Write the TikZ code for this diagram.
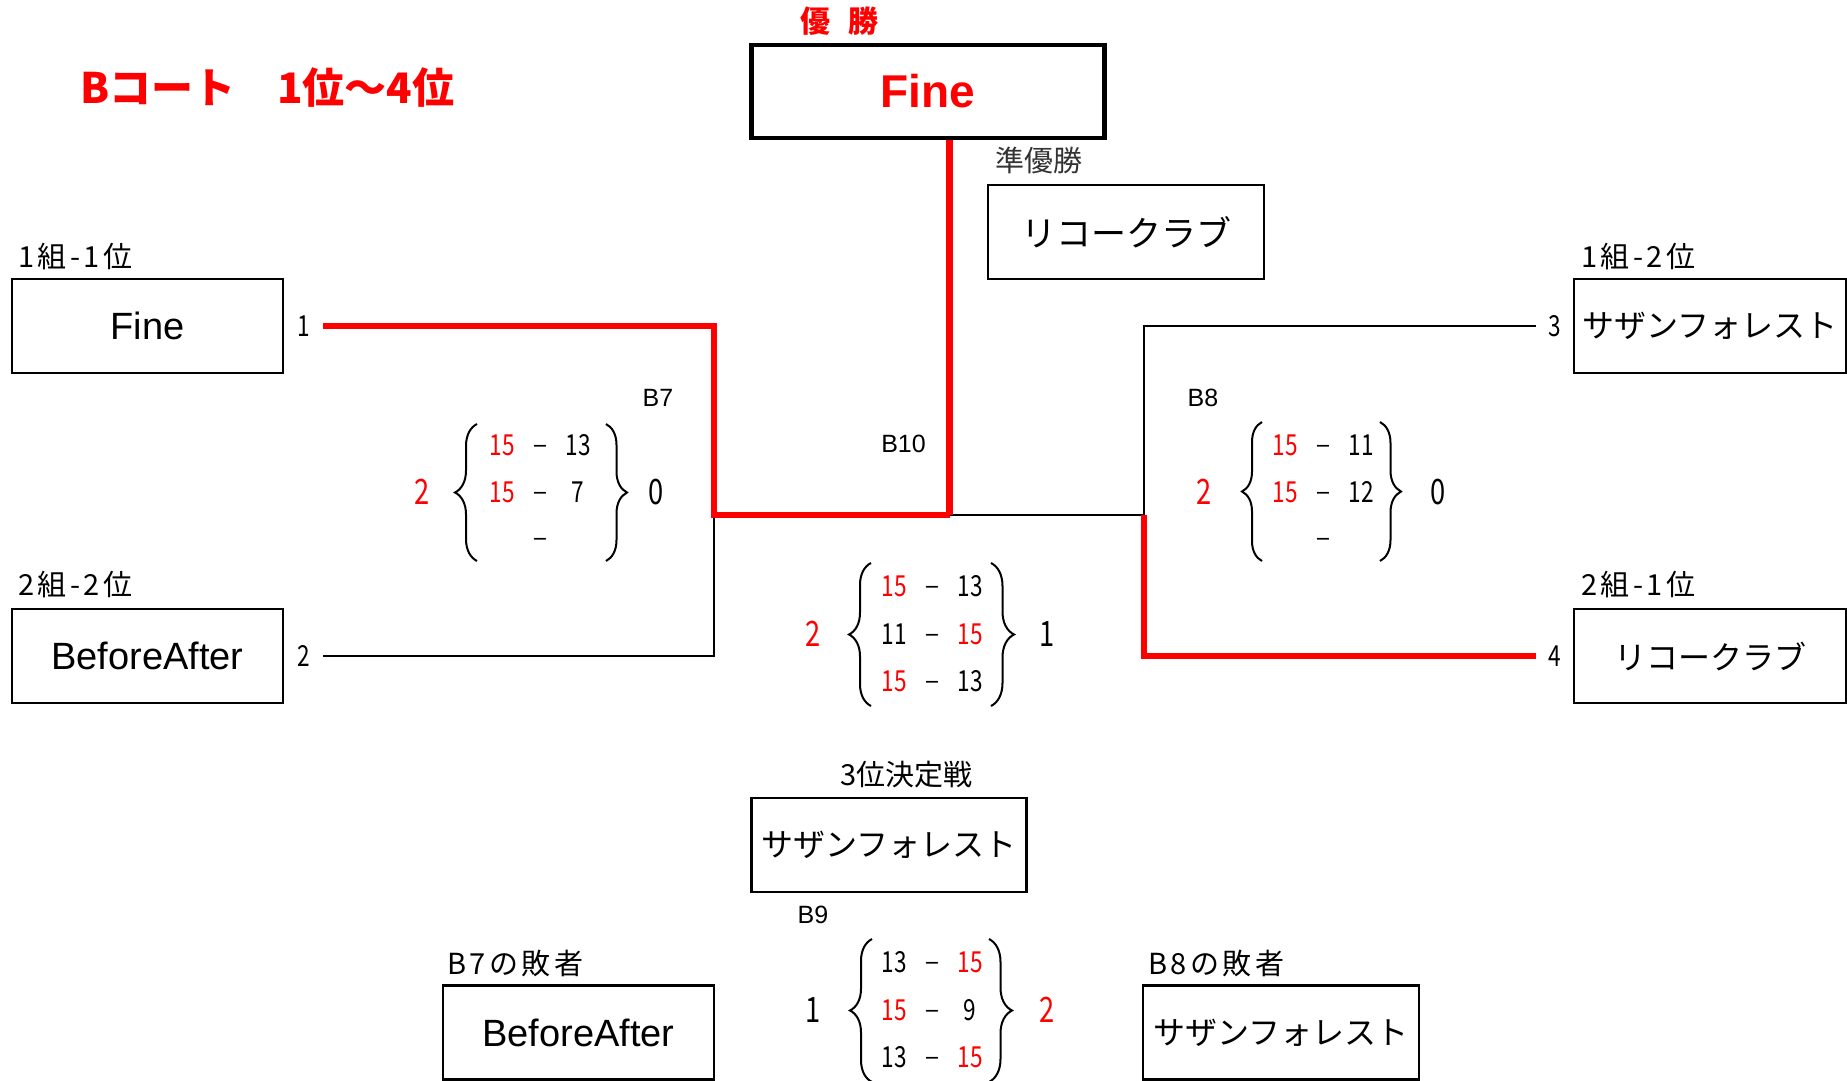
\documentclass[tikz,border=0pt]{standalone}
\usepackage{fontspec}
\setmainfont{Noto Sans CJK JP}
\newfontfamily\lat{Liberation Sans}
\newfontfamily\spaced{Noto Sans CJK JP}[LetterSpace=12]
\usetikzlibrary{decorations.pathreplacing}
\definecolor{rd}{RGB}{255,0,0}
\newcommand\myfs[1]{\fontsize{#1}{#1}\selectfont}
\newcommand\nar[1]{\scalebox{0.78}[1]{#1}}
\newcommand\scorerow[7]{%
  \node[sc,text=#5] (#1a) at (#3-38,#2+10.5) {\nar{#4}};
  \node[dsh] (#1d) at (#3,#2+10.5) {−};
  \node[sc,text=#7] (#1b) at (#3+38,#2+10.5) {\nar{#6}};}
\begin{document}
\begin{tikzpicture}[x=1pt,y=-1pt,
  team/.style={draw, line width=2.2pt, inner sep=0pt, minimum height=94pt, font=\myfs{33}},
  lab/.style={anchor=west, inner sep=0pt, font=\myfs{29}},
  sc/.style={inner sep=0pt, anchor=base, font=\myfs{29}},
  dsh/.style={inner sep=0pt, anchor=base, font=\myfs{25}},
  mlab/.style={inner sep=0pt, font=\lat\myfs{25}},
  big/.style={inner sep=0pt, font=\myfs{35}},
  seed/.style={inner sep=0pt, font=\myfs{29}},
  redline/.style={rd, line width=6.5pt},
  blkline/.style={black, line width=2.5pt},
  bracestyle/.style={line width=2pt, decorate, decoration={brace, amplitude=#1}}
]
\useasboundingbox (0,0) rectangle (1847,1081);

% titles
\node[anchor=west, inner sep=0pt, text=rd, font=\myfs{42}\bfseries] (title) at (80,88) {Bコート　1位～4位};
\node[inner sep=0pt, text=rd, font=\myfs{30}\bfseries] (yusho) at (839,21) {優\hspace{0.6em}勝};

% team boxes
\node[team, minimum width=271pt, font=\lat\myfs{38}] (tFine) at (147.5,326) {Fine};
\node[team, minimum width=271pt, font=\lat\myfs{38}] (tBA) at (147.5,656) {BeforeAfter};
\node[team, minimum width=272pt, font=\myfs{32}] (tSF) at (1710,326) {サザンフォレスト};
\node[team, minimum width=272pt, font=\myfs{32}] (tRC) at (1710,656) {リコークラブ};
\node[team, line width=4.5pt, minimum width=353pt, minimum height=93pt, text=rd, font=\lat\myfs{46}\bfseries] (win) at (928,91.5) {Fine};
\node[team, minimum width=276pt, font=\myfs{35}] (ru) at (1126,232) {リコークラブ};
\node[team, minimum width=275pt, font=\myfs{32}] (third) at (889,845) {サザンフォレスト};
\node[team, minimum width=271pt, font=\lat\myfs{38}] (l7) at (578.5,1032.5) {BeforeAfter};
\node[team, minimum width=276pt, font=\myfs{32}] (l8) at (1281,1032.5) {サザンフォレスト};

% labels
\node[lab, font=\spaced\myfs{29}] (lb11) at (18,257) {1組-1位};
\node[lab, font=\spaced\myfs{29}] (lb22) at (18,585) {2組-2位};
\node[lab, font=\spaced\myfs{29}] (lb12) at (1581,257) {1組-2位};
\node[lab, font=\spaced\myfs{29}] (lb21) at (1581,585) {2組-1位};
\node[lab, text=black!80] (lbru) at (995,160) {準優勝};
\node[lab] (lb3) at (840,775) {3位決定戦};
\node[lab, font=\spaced\myfs{29}] (lbB7) at (447,963) {B7の敗者};
\node[lab, font=\spaced\myfs{29}] (lbB8) at (1148,963) {B8の敗者};

% match labels
\node[mlab] (mB7) at (658,398) {B7};
\node[mlab] (mB8) at (1203,398) {B8};
\node[mlab] (mB10) at (903.5,444) {B10};
\node[mlab] (mB9) at (813,915) {B9};

% seeds
\node[seed] (s1) at (304,326) {\nar{1}};
\node[seed] (s2) at (304,656) {\nar{2}};
\node[seed] (s3) at (1555,326) {\nar{3}};
\node[seed] (s4) at (1555,656) {\nar{4}};

% connectors
\coordinate (p1) at (323,326);
\coordinate (p2) at (323,656);
\coordinate (p3) at (1536,326);
\coordinate (p4) at (1536,656);
\coordinate (j7) at (714,515);
\coordinate (j10) at (949.5,515);
\coordinate (j8) at (1144,515);
\draw[blkline] (p2) -| (j7);
\draw[blkline] (j10) -- (j8);
\draw[blkline] (p3) -| (j8);
\draw[redline] (p1) -| (j7) -- (j10);
\draw[redline] (win.south -| j10) -- (j10);
\draw[redline] (j8) |- (p4);

% B7 score
\node[big, text=rd] (b7w) at (422,492) {\nar{2}};
\node[big] (b7l) at (656,492) {\nar{0}};
\draw[bracestyle=22pt] (477,561) -- (477,424);
\draw[bracestyle=21pt] (606,424) -- (606,561);
\scorerow{b7r1}{445}{540}{15}{rd}{13}{black}
\scorerow{b7r2}{492}{540}{15}{rd}{7}{black}
\node[dsh] (b7r3d) at (540,548.5) {−};

% B8 score
\node[big, text=rd] (b8w) at (1204,492) {\nar{2}};
\node[big] (b8l) at (1438,492) {\nar{0}};
\draw[bracestyle=20pt] (1262,561) -- (1262,422);
\draw[bracestyle=21pt] (1380,422) -- (1380,561);
\scorerow{b8r1}{445}{1323}{15}{rd}{11}{black}
\scorerow{b8r2}{492}{1323}{15}{rd}{12}{black}
\node[dsh] (b8r3d) at (1323,548.5) {−};

% B10 score
\node[big, text=rd] (b10w) at (813,634) {\nar{2}};
\node[big] (b10l) at (1047,634) {\nar{1}};
\draw[bracestyle=22pt] (871,706) -- (871,563);
\draw[bracestyle=23pt] (991,563) -- (991,706);
\scorerow{b10r1}{586}{932}{15}{rd}{13}{black}
\scorerow{b10r2}{634}{932}{11}{black}{15}{rd}
\scorerow{b10r3}{681}{932}{15}{rd}{13}{black}

% B9 score
\node[big] (b9l) at (813,1010) {\nar{1}};
\node[big, text=rd] (b9w) at (1047,1010) {\nar{2}};
\draw[bracestyle=22pt] (872,1082) -- (872,939);
\draw[bracestyle=23pt] (989,939) -- (989,1082);
\scorerow{b9r1}{962}{932}{13}{black}{15}{rd}
\scorerow{b9r2}{1010}{932}{15}{rd}{9}{black}
\scorerow{b9r3}{1057}{932}{13}{black}{15}{rd}
\end{tikzpicture}
\end{document}
